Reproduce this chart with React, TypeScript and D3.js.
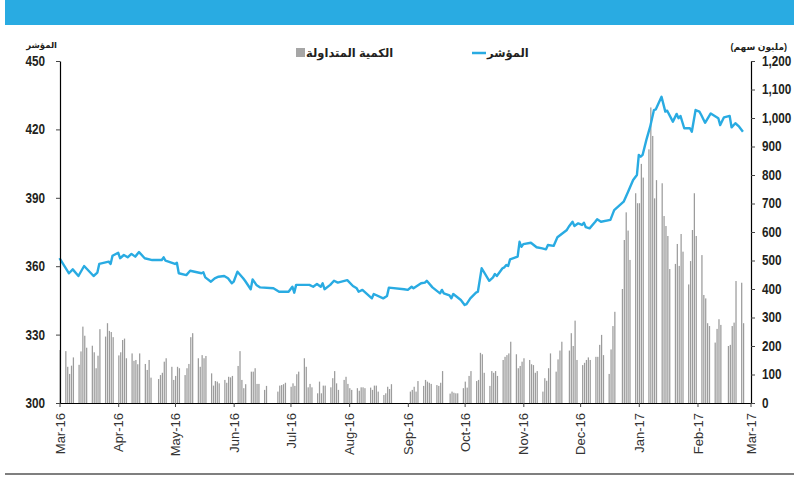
import React, { useEffect, useRef } from 'react';
import * as d3 from 'd3';

// ---- Data ----
const indexDates = [
  '2016-03-01','2016-03-06','2016-03-08','2016-03-11','2016-03-14','2016-03-19','2016-03-21','2016-03-22','2016-03-27','2016-03-28','2016-03-29',
  '2016-04-01','2016-04-02','2016-04-04','2016-04-06','2016-04-08','2016-04-10','2016-04-12','2016-04-15','2016-04-19','2016-04-24','2016-04-25','2016-04-26',
  '2016-05-01','2016-05-02','2016-05-03','2016-05-07','2016-05-09','2016-05-15','2016-05-16','2016-05-17','2016-05-20','2016-05-22','2016-05-24','2016-05-27','2016-05-29','2016-05-31',
  '2016-06-01','2016-06-03','2016-06-06','2016-06-07','2016-06-10','2016-06-11','2016-06-13','2016-06-15','2016-06-22','2016-06-25','2016-06-30',
  '2016-07-02','2016-07-03','2016-07-04','2016-07-11','2016-07-13','2016-07-15','2016-07-17','2016-07-18','2016-07-19','2016-07-22','2016-07-24','2016-07-26','2016-07-31',
  '2016-08-03','2016-08-05','2016-08-06','2016-08-08','2016-08-13','2016-08-14','2016-08-19','2016-08-21','2016-08-22','2016-08-30',
  '2016-09-01','2016-09-03','2016-09-04','2016-09-08','2016-09-10','2016-09-11','2016-09-14','2016-09-18','2016-09-19','2016-09-20','2016-09-23','2016-09-24','2016-09-25','2016-09-29',
  '2016-10-01','2016-10-02','2016-10-04','2016-10-07','2016-10-08','2016-10-10','2016-10-14','2016-10-16','2016-10-17','2016-10-18','2016-10-21','2016-10-22','2016-10-23','2016-10-24','2016-10-25','2016-10-29','2016-10-30','2016-10-31',
  '2016-11-01','2016-11-05','2016-11-08','2016-11-11','2016-11-13','2016-11-14','2016-11-17','2016-11-19','2016-11-24','2016-11-25','2016-11-27','2016-11-28','2016-11-30',
  '2016-12-02','2016-12-03','2016-12-04','2016-12-06','2016-12-09','2016-12-10','2016-12-12','2016-12-17','2016-12-19','2016-12-24','2016-12-26','2016-12-29','2016-12-31',
  '2017-01-01','2017-01-02','2017-01-03','2017-01-05','2017-01-07','2017-01-09','2017-01-10','2017-01-13','2017-01-15','2017-01-16','2017-01-19','2017-01-21','2017-01-22','2017-01-23','2017-01-25','2017-01-28','2017-01-29','2017-01-31',
  '2017-02-02','2017-02-03','2017-02-05','2017-02-08','2017-02-12','2017-02-13','2017-02-15','2017-02-18','2017-02-19','2017-02-21','2017-02-23','2017-02-25',
];
const indexValues = [
  363.5,356.9,358.6,355.7,360.1,355.7,357.2,361.0,362.0,361.0,364.6,
  365.9,363.5,364.9,363.9,365.4,364.2,366.2,363.5,362.7,362.7,363.9,362.4,
  361.0,361.5,356.9,356.1,358.0,356.9,357.3,355.1,353.2,354.7,355.4,355.7,354.7,352.5,
  353.2,357.6,354.7,353.6,349.9,354.2,351.8,350.7,350.3,348.8,348.8,
  351.0,348.4,351.8,351.8,351.0,352.2,351.0,352.5,349.9,351.8,353.6,352.8,353.9,
  351.3,350.3,348.8,349.6,345.9,347.8,345.9,346.9,350.6,349.9,
  349.6,351.0,350.3,352.5,352.8,353.6,350.7,348.1,349.6,348.1,347.2,345.9,347.8,345.2,
  343.0,343.4,345.9,348.4,348.8,359.1,353.6,355.1,356.6,355.7,359.1,359.5,360.5,360.1,363.0,364.2,370.7,368.5,
  369.7,370.3,368.3,367.8,367.4,369.3,368.9,372.7,375.9,377.3,379.5,377.6,378.8,
  378.1,379.1,377.1,376.6,379.5,380.6,379.5,380.3,384.6,388.3,392.0,397.8,400.0,
  408.8,408.0,408.8,415.4,421.2,428.5,428.8,434.3,427.8,428.2,423.4,426.8,424.9,425.9,420.5,420.5,419.0,428.5,
  427.8,426.3,422.9,427.0,424.9,421.9,425.3,425.9,420.9,422.7,421.2,419.0,
];

// Volume (million shares): first trading day of each week, then that week's daily values
const volumeWeekStarts = [
  '2016-03-03','2016-03-06','2016-03-13','2016-03-20','2016-03-27','2016-04-03','2016-04-10','2016-04-17','2016-04-24',
  '2016-05-01','2016-05-08','2016-05-15','2016-05-22','2016-05-29','2016-06-05','2016-06-12','2016-06-19','2016-06-26',
  '2016-07-03','2016-07-10','2016-07-17','2016-07-24','2016-07-31','2016-08-07','2016-08-14','2016-08-21',
  '2016-09-04','2016-09-11','2016-09-18','2016-09-25','2016-10-02','2016-10-09','2016-10-16','2016-10-23','2016-10-30',
  '2016-11-06','2016-11-13','2016-11-20','2016-11-27','2016-12-04','2016-12-11','2016-12-18','2016-12-25',
  '2017-01-01','2017-01-08','2017-01-15','2017-01-22','2017-01-29','2017-02-05','2017-02-12','2017-02-19','2017-02-26',
];
const volumeValues = [
  [186],
  [182,127,102,131,160],
  [134,181,268,236,194],
  [201,178,122,166,259],
  [233,280,253,249,231],
  [167,178,221,226,157],
  [174,148,151,136,174],
  [137,116,151,89],
  [84,98,106,145,157],
  [127,81,95,127,122],
  [98,122,137,231,245],
  [157,127,168,157,165],
  [104,61,77,75,69],
  [81,71,92,90,95],
  [130,182,81,52,66],
  [110,110,122,67,67],
  [46,60],
  [40,61,63,66,71],
  [57,69,60,101,110],
  [157,127,55,67,55],
  [34,75,34,61,61],
  [55,87,112,69,46],
  [81,92,67,52,46],
  [52,43,55,55,52],
  [54,46,61,61,40],
  [28,34,57,49,66],
  [40,46,57,40,77],
  [60,81,75,71,67],
  [63,60,71,112],
  [33,40,36,34,34],
  [52,75,54,95,112],
  [77,81,176,171,106],
  [60,112,106,112,95],
  [151,162,168,174,215],
  [171,122,130,145,157],
  [151,136,133,106,112],
  [40,87,78,122,174],
  [110,153,184,215],
  [184,245,200,289,151],
  [133,141,151,160,151],
  [162,162,204,239,168],
  [102,188,270,320],
  [400,572,669,605,502],
  [736,701,701,839,791],
  [890,1037,937,718,782],
  [771,656,621,586,470],
  [488,558,481,593,531],
  [416,498,607,736,586],
  [519,379,367,280,270],
  [212,260,294,274],
  [200,204,270,282,428],
  [422,280],
];

const leftTicks = [300, 330, 360, 390, 420, 450];
const rightTicks = [0, 100, 200, 300, 400, 500, 600, 700, 800, 900, 1000, 1100, 1200];
const monthTicks = ['2016-03-01','2016-04-01','2016-05-01','2016-06-01','2016-07-01','2016-08-01','2016-09-01','2016-10-01','2016-11-01','2016-12-01','2017-01-01','2017-02-01','2017-03-01'];

const legendVolume = 'الكمية المتداولة';
const legendIndex = 'المؤشر';
const leftTitle = 'المؤشر';
const rightTitle = '(مليون سهم)';

const BLUE = '#29abe2';
const NUM_FONT = '"Liberation Sans", Arial, sans-serif';
const AR_FONT = 'Arial, "Liberation Sans", "DejaVu Sans", sans-serif';
const SQUEEZE = 0.84;

export default function App() {
  const ref = useRef<SVGSVGElement>(null);

  useEffect(() => {
    const svg = d3.select(ref.current);
    svg.selectAll('*').remove();
    const parse = d3.timeParse('%Y-%m-%d');

    const x = d3.scaleTime()
      .domain([parse('2016-03-01')!, parse('2017-03-01')!])
      .range([59.5, 750.5]);
    const yL = d3.scaleLinear().domain([300, 450]).range([403, 61]);
    const yR = d3.scaleLinear().domain([0, 1200]).range([403, 61]);

    // header band
    svg.append('rect').attr('x', 5).attr('y', 0).attr('width', 789).attr('height', 25).attr('fill', BLUE);
    // bottom rule
    svg.append('line').attr('x1', 5).attr('x2', 794).attr('y1', 474).attr('y2', 474)
      .attr('stroke', '#555').attr('stroke-width', 1.5);

    // volume bars
    const bars: { d: Date; v: number }[] = [];
    volumeWeekStarts.forEach((ws, i) => {
      const start = parse(ws)!;
      volumeValues[i].forEach((v, j) => bars.push({ d: d3.timeDay.offset(start, j), v }));
    });
    const barShift = (d: Date) => x(d3.timeHour.offset(d, -40));
    svg.append('g').selectAll('rect').data(bars).join('rect')
      .attr('x', (b) => barShift(b.d) - 0.6)
      .attr('width', 1.25)
      .attr('y', (b) => yR(b.v))
      .attr('height', (b) => yR(0) - yR(b.v))
      .attr('fill', '#9c9c9c');

    // index line
    const pts = indexDates.map((s, i) => ({ d: parse(s)!, v: indexValues[i] }));
    const line = d3.line<{ d: Date; v: number }>().x((p) => x(p.d)).y((p) => yL(p.v));
    svg.append('path').datum(pts).attr('d', line).attr('fill', 'none')
      .attr('stroke', BLUE).attr('stroke-width', 2.4).attr('stroke-linejoin', 'round');

    // left axis
    const gl = svg.append('g').attr('transform', 'translate(60,0)')
      .call(d3.axisLeft(yL).tickValues(leftTicks).tickSize(4).tickSizeOuter(0).tickPadding(11).tickFormat(d3.format('d')));
    gl.select('.domain').attr('stroke', '#000').attr('stroke-width', 1.2);
    gl.selectAll('.tick line').attr('stroke', '#444');
    gl.selectAll('.tick text').attr('font-family', NUM_FONT).attr('font-size', 14).attr('font-weight', 'bold').attr('fill', '#231f20')
      .attr('x', -15 / SQUEEZE).attr('transform', `scale(${SQUEEZE},1)`);

    // right axis
    const gr = svg.append('g').attr('transform', 'translate(751,0)')
      .call(d3.axisRight(yR).tickValues(rightTicks).tickSize(4).tickSizeOuter(0).tickPadding(7).tickFormat(d3.format(',')));
    gr.select('.domain').attr('stroke', '#000').attr('stroke-width', 1.2);
    gr.selectAll('.tick line').attr('stroke', '#444');
    gr.selectAll('.tick text').attr('font-family', NUM_FONT).attr('font-size', 14).attr('font-weight', 'bold').attr('fill', '#231f20')
      .attr('x', 11 / SQUEEZE).attr('transform', `scale(${SQUEEZE},1)`);

    // bottom axis
    const gb = svg.append('g').attr('transform', 'translate(0,403)')
      .call(d3.axisBottom(x).tickValues(monthTicks.map((s) => parse(s)!)).tickSize(4).tickSizeOuter(0)
        .tickFormat((d) => d3.timeFormat('%b-%y')(d as Date)));
    gb.select('.domain').attr('stroke', '#000').attr('stroke-width', 1.2);
    gb.selectAll('.tick line').attr('stroke', '#444');
    gb.selectAll('.tick text')
      .attr('font-family', '"Liberation Sans", Arial, sans-serif').attr('font-size', 13).attr('fill', '#333')
      .attr('text-anchor', 'end').attr('transform', 'rotate(-90)')
      .attr('x', -10).attr('y', 0).attr('dy', '0.35em');

    // axis titles
    svg.append('text').attr('x', 57).attr('y', 48).attr('text-anchor', 'end')
      .attr('font-family', AR_FONT).attr('font-size', 8.5).attr('font-weight', 'bold').attr('fill', '#231f20').text(leftTitle);
    svg.append('text').attr('x', 787).attr('y', 50).attr('text-anchor', 'end')
      .attr('font-family', AR_FONT).attr('font-size', 9).attr('font-weight', 'bold').attr('fill', '#231f20').text(rightTitle);

    // legend
    svg.append('rect').attr('x', 296).attr('y', 48).attr('width', 9).attr('height', 9).attr('fill', '#a6a6a6');
    svg.append('text').attr('x', 306).attr('y', 57).attr('text-anchor', 'start')
      .attr('font-family', AR_FONT).attr('font-size', 11.5).attr('font-weight', 'bold').attr('fill', '#231f20').text(legendVolume);
    svg.append('line').attr('x1', 472).attr('x2', 486).attr('y1', 53).attr('y2', 53).attr('stroke', BLUE).attr('stroke-width', 2.5);
    svg.append('text').attr('x', 487).attr('y', 57).attr('text-anchor', 'start')
      .attr('font-family', AR_FONT).attr('font-size', 11.5).attr('font-weight', 'bold').attr('fill', '#231f20').text(legendIndex);
  }, []);

  return (
    <svg ref={ref} width={794} height={483}
      style={{ position: 'absolute', left: 0, top: 0, background: '#fff' }} />
  );
}
